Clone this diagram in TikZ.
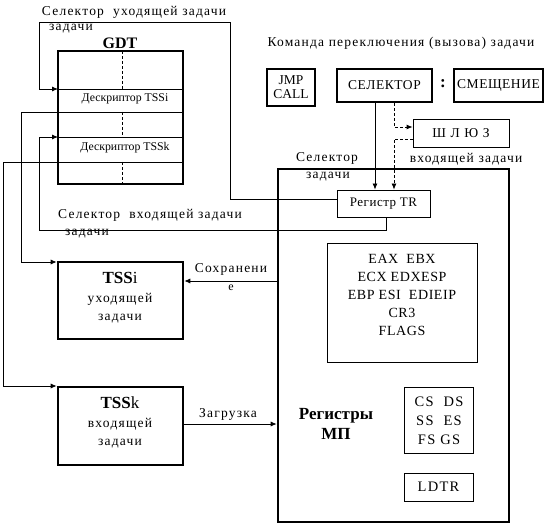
\documentclass[tikz,border=0pt]{standalone}
\usepackage{fontspec}
\setmainfont{Liberation Serif}
\newfontfamily\spc[LetterSpace=9]{Liberation Serif}
\newfontfamily\spcs[LetterSpace=4]{Liberation Serif}
\usetikzlibrary{arrows.meta}
\begin{document}
\begin{tikzpicture}[x=1pt,y=-1pt,
  thickbox/.style={draw,line width=2.6pt,inner sep=0pt},
  thinbox/.style={draw,line width=0.8pt,inner sep=0pt},
  conn/.style={line width=0.8pt},
  arr/.style={line width=0.8pt,-{Latex[length=6pt,width=5pt]}},
  lbl/.style={inner sep=0pt,font=\fontsize{13.5}{15}\selectfont\spc},
  dsc/.style={inner sep=0pt,font=\fontsize{11.8}{13}\selectfont},
  ]
\useasboundingbox (0,0) rectangle (552,524);
% GDT
\node[thickbox,minimum width=125pt,minimum height=133pt] (gdt) at (120.5,117.5) {};
\node[inner sep=0pt,font=\fontsize{16}{18}\selectfont\bfseries] (gdtl) at (120,43) {GDT};
\coordinate (r1w) at (58,89); \coordinate (r1e) at (183,89);
\coordinate (r2e) at (183,112);
\coordinate (r3w) at (58,137); \coordinate (r3e) at (183,137);
\coordinate (r4e) at (183,162);
\draw[conn] (r1w) -- (r1e);
\draw[conn] (r3w) -- (r3e);
\draw[conn,dashed,dash pattern=on 3pt off 2pt] (122,51) -- (122,89) (122,112) -- (122,137) (122,162) -- (122,184);
\node[dsc] (d1) at (125,99) {Дескриптор TSSi};
\node[dsc] (d2) at (125,148) {Дескриптор TSSk};
% TSS boxes
\node[thickbox,minimum width=125pt,minimum height=77pt] (tssi) at (120.5,300.5) {};
\node[inner sep=0pt,font=\fontsize{17}{19}\selectfont] at (120,278) {\textbf{TSS}i};
\node[lbl] at (120,299) {уходящей};
\node[lbl] at (120,319) {задачи};
\node[thickbox,minimum width=125pt,minimum height=78pt] (tssk) at (120.5,426) {};
\node[inner sep=0pt,font=\fontsize{17}{19}\selectfont] at (120,403) {\textbf{TSS}k};
\node[lbl] at (120,424) {входящей};
\node[lbl] at (120,444) {задачи};
% MP
\node[thickbox,minimum width=231pt,minimum height=353pt] (mp) at (393.5,345.5) {};
\node[thinbox,minimum width=93pt,minimum height=27pt,font=\fontsize{13}{15}\selectfont\spcs] (tr) at (383.5,203.5) {Регистр TR};
\node[thinbox,minimum width=150pt,minimum height=119pt] (regs) at (402,302.5) {};
\node[inner sep=0pt,align=center,font=\fontsize{14}{18}\selectfont\spcs] at (402,295) {EAX\ \ EBX\\ECX\ EDXESP\\EBP ESI\ \ EDIEIP\\CR3\\FLAGS};
\node[thinbox,minimum width=69pt,minimum height=66pt] (segs) at (438.5,420) {};
\node[inner sep=0pt,align=center,font=\fontsize{14.5}{19}\selectfont\spc] at (439,421) {CS\ \ DS\\SS\ \ ES\\FS GS};
\node[thinbox,minimum width=69pt,minimum height=28pt,font=\fontsize{14.5}{16}\selectfont\spc] (ldtr) at (438.5,487) {LDTR};
\node[inner sep=0pt,align=center,font=\fontsize{17}{20}\selectfont\bfseries] (mpl) at (336,424) {Регистры\\МП};
% top
\node[lbl] (cmd) at (401,43) {Команда переключения (вызова) задачи};
\node[thickbox,minimum width=48pt,minimum height=37pt,align=center,font=\fontsize{13.5}{14}\selectfont] (jmp) at (291,87.5) {JMP\\CALL};
\node[thickbox,minimum width=95pt,minimum height=33pt,font=\fontsize{13.5}{15}\selectfont\spcs] (sel) at (384.5,85.5) {СЕЛЕКТОР};
\node[inner sep=0pt,font=\fontsize{17}{18}\selectfont\bfseries] (colon) at (443,84) {:};
\node[thickbox,minimum width=89pt,minimum height=33pt,font=\fontsize{13.5}{15}\selectfont\spcs] (ofs) at (498.5,85.5) {СМЕЩЕНИЕ};
\node[thinbox,minimum width=96pt,minimum height=28pt,font=\fontsize{13.5}{15}\selectfont\spc] (gate) at (461,133) {Ш\ Л\ Ю\ З};
% labels
\node[lbl] at (134,12) {Селектор\ \ уходящей задачи};
\node[lbl] at (71,29) {задачи};
\node[lbl] at (150,215) {Селектор\ \ входящей задачи};
\node[lbl] at (87,234) {задачи};
\node[lbl] at (327,158) {Селектор};
\node[lbl] at (328,177) {задачи};
\node[lbl] at (466,159) {входящей задачи};
\node[lbl] at (231,269) {Сохранени};
\node[inner sep=0pt,font=\fontsize{12}{12}\selectfont] at (231,288) {е};
\node[lbl] at (228,414) {Загрузка};
% connectors
\draw[arr] (tr.west |- 0,199) -- (230,199) -- (230,22) -- (39,22) -- (39,89) -- (r1w);
\draw[arr] (r2e) -- (21,112) -- (21,262) -- (tssi.west |- 0,262);
\draw[arr] (tr.south -| 386,0) -- (386,230) -- (39,230) -- (39,137) -- (r3w);
\draw[arr] (r4e) -- (3,162) -- (3,386) -- (tssk.west |- 0,386);
\draw[arr] (tssk.east |- 0,424) -- (mp.west |- 0,424);
\draw[arr] (mp.west |- 0,281) -- (tssi.east |- 0,281);
\draw[arr] (sel.south -| 375,0) -- (tr.north -| 375,0);
\draw[arr,dashed,dash pattern=on 3pt off 2pt] (sel.south -| 394,0) -- (394,127) -- (gate.west |- 0,127);
\draw[arr,dashed,dash pattern=on 3pt off 2pt] (gate.west |- 0,139) -- (394,139) -- (tr.north -| 394,0);
\end{tikzpicture}
\end{document}
